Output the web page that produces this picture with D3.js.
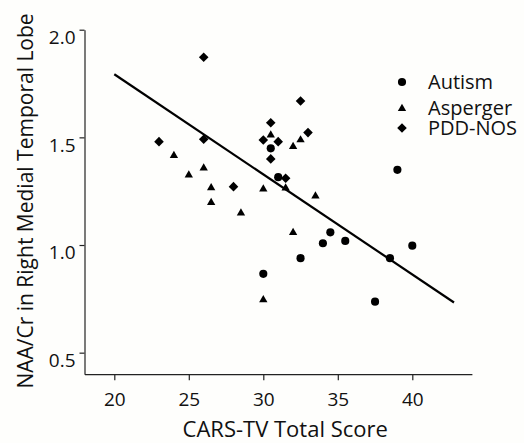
<!DOCTYPE html>
<html>
<head>
<meta charset="utf-8">
<script src="https://cdn.jsdelivr.net/npm/d3@7"></script>
<style>
  body { margin: 0; background: #fefefc; }
  svg { display: block; font-family: "Open Sans", sans-serif; }
</style>
</head>
<body>
<div id="container"></div>
<script>
/* DATA */
// [CARS-TV score, NAA/Cr]
const autism = [
  [30.5, 1.449], [31, 1.315], [39, 1.349], [34.5, 1.059], [34, 1.008],
  [35.5, 1.019], [32.5, 0.939], [38.5, 0.939], [40, 0.997], [37.5, 0.737],
  [30, 0.866]
];
const asperger = [
  [24, 1.415], [25, 1.325], [26, 1.357], [26.5, 1.266], [26.5, 1.197],
  [28.5, 1.148], [30.5, 1.511], [32, 1.457], [32.5, 1.488], [30, 1.260],
  [31.5, 1.264], [33.5, 1.227], [32, 1.058], [30, 0.745]
];
const pddNos = [
  [26, 1.872], [23, 1.480], [26, 1.491], [28, 1.271], [32.5, 1.669],
  [30.5, 1.568], [30, 1.488], [31, 1.480], [33, 1.522], [30.5, 1.400],
  [31.5, 1.310]
];
const fitLine = [[20, 1.793], [42.8, 0.733]];
const groups = ["Autism", "Asperger", "PDD-NOS"];
const xTicks = [20, 25, 30, 35, 40];
const yTicks = [0.5, 1.0, 1.5, 2.0];

/* CONSTANTS */
const width = 524, height = 443;
const xDomain = [18, 44], yDomain = [0.4, 2.0];

const svg = d3.select("#container").append("svg")
  .attr("width", width)
  .attr("height", height);

const x = d3.scaleLinear().domain(xDomain).range([84.5, 471.9]);
const y = d3.scaleLinear().domain(yDomain).range([374.2, 29.7]);

const shapes = {
  "Autism": d3.symbol().type(d3.symbolCircle).size(52),
  "Asperger": d3.symbol().type(d3.symbolTriangle).size(30),
  "PDD-NOS": d3.symbol().type(d3.symbolSquare).size(46)
};
const rot = g => g === "PDD-NOS" ? " rotate(45)" : "";

// axes
const xAxis = d3.axisBottom(x).tickValues(xTicks).tickSize(6).tickSizeOuter(0).tickPadding(12);
const yAxis = d3.axisLeft(y).tickValues(yTicks).tickFormat(d3.format(".1f")).tickSize(5).tickSizeOuter(0).tickPadding(4);

const gx = svg.append("g")
  .attr("transform", `translate(0,${y.range()[0]})`)
  .call(xAxis);
const gy = svg.append("g")
  .attr("transform", `translate(${x.range()[0]},0)`)
  .call(yAxis);

[gx, gy].forEach(g => {
  g.selectAll("path, line").attr("stroke", "#222").attr("stroke-width", 1.2);
  g.selectAll("text")
    .attr("font-family", "Open Sans, sans-serif")
    .attr("font-size", 19)
    .attr("fill", "#111");
});
gy.selectAll("text").attr("dy", "0.72em");
gx.selectAll("text").attr("dy", "0.71em");

// axis titles
svg.append("text")
  .attr("x", (x.range()[0] + x.range()[1]) / 2 + 7)
  .attr("y", 437)
  .attr("text-anchor", "middle")
  .attr("font-size", 22)
  .attr("fill", "#111")
  .text("CARS-TV Total Score");

svg.append("text")
  .attr("transform", "translate(33,201) rotate(-90)")
  .attr("text-anchor", "middle")
  .attr("font-size", 21)
  .attr("fill", "#111")
  .text("NAA/Cr in Right Medial Temporal Lobe");

// regression line
svg.append("path")
  .datum(fitLine)
  .attr("fill", "none")
  .attr("stroke", "#000")
  .attr("stroke-width", 2.2)
  .attr("d", d3.line().x(d => x(d[0])).y(d => y(d[1])));

// points
const series = [[autism, "Autism"], [asperger, "Asperger"], [pddNos, "PDD-NOS"]];
series.forEach(([data, g]) => {
  svg.append("g").selectAll("path")
    .data(data)
    .join("path")
    .attr("d", shapes[g])
    .attr("transform", d => `translate(${x(d[0])},${y(d[1])})${rot(g)}`)
    .attr("fill", "#000");
});

// legend
const legend = svg.append("g").selectAll("g")
  .data(groups)
  .join("g")
  .attr("transform", (d, i) => `translate(402,${[82, 107.5, 128][i]})`);
legend.append("path")
  .attr("d", d => shapes[d]())
  .attr("transform", d => d === "PDD-NOS" ? "rotate(45)" : d === "Asperger" ? "translate(0,1)" : "")
  .attr("fill", "#000");
legend.append("text")
  .attr("x", 26)
  .attr("dy", "0.35em")
  .attr("font-size", 20)
  .attr("fill", "#111")
  .text(d => d);
</script>
</body>
</html>
